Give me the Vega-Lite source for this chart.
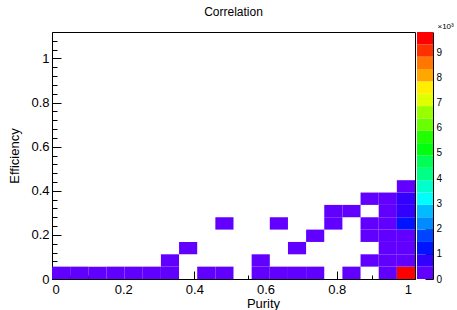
{
  "$schema": "https://vega.github.io/schema/vega-lite/v6.json",
  "autosize": "pad",
  "padding": {"left": 8, "top": 5, "right": 2, "bottom": 0},
  "background": "white",
  "spacing": 2,
  "bounds": "flush",
  "config": {
    "font": "Liberation Sans",
    "view": {"stroke": "black", "strokeWidth": 1},
    "axis": {"grid": false, "domainColor": "black", "tickColor": "black", "labelColor": "black", "titleColor": "black", "labelFont": "Liberation Sans", "titleFont": "Liberation Sans", "titleFontWeight": "normal"}
  },
  "datasets": {
    "cells": [
      {"xlo": 0.000, "xhi": 0.051, "ylo": 0.000, "yhi": 0.056, "z": 210},
      {"xlo": 0.051, "xhi": 0.102, "ylo": 0.000, "yhi": 0.056, "z": 180},
      {"xlo": 0.102, "xhi": 0.153, "ylo": 0.000, "yhi": 0.056, "z": 150},
      {"xlo": 0.153, "xhi": 0.204, "ylo": 0.000, "yhi": 0.056, "z": 140},
      {"xlo": 0.204, "xhi": 0.255, "ylo": 0.000, "yhi": 0.056, "z": 120},
      {"xlo": 0.255, "xhi": 0.306, "ylo": 0.000, "yhi": 0.056, "z": 110},
      {"xlo": 0.306, "xhi": 0.357, "ylo": 0.000, "yhi": 0.056, "z": 90},
      {"xlo": 0.408, "xhi": 0.459, "ylo": 0.000, "yhi": 0.056, "z": 80},
      {"xlo": 0.459, "xhi": 0.510, "ylo": 0.000, "yhi": 0.056, "z": 85},
      {"xlo": 0.561, "xhi": 0.612, "ylo": 0.000, "yhi": 0.056, "z": 95},
      {"xlo": 0.612, "xhi": 0.663, "ylo": 0.000, "yhi": 0.056, "z": 100},
      {"xlo": 0.663, "xhi": 0.714, "ylo": 0.000, "yhi": 0.056, "z": 110},
      {"xlo": 0.714, "xhi": 0.765, "ylo": 0.000, "yhi": 0.056, "z": 130},
      {"xlo": 0.816, "xhi": 0.867, "ylo": 0.000, "yhi": 0.056, "z": 160},
      {"xlo": 0.918, "xhi": 0.969, "ylo": 0.000, "yhi": 0.056, "z": 320},
      {"xlo": 0.969, "xhi": 1.020, "ylo": 0.000, "yhi": 0.056, "z": 9800},
      {"xlo": 0.306, "xhi": 0.357, "ylo": 0.056, "yhi": 0.112, "z": 60},
      {"xlo": 0.561, "xhi": 0.612, "ylo": 0.056, "yhi": 0.112, "z": 50},
      {"xlo": 0.867, "xhi": 0.918, "ylo": 0.056, "yhi": 0.112, "z": 120},
      {"xlo": 0.918, "xhi": 0.969, "ylo": 0.056, "yhi": 0.112, "z": 210},
      {"xlo": 0.969, "xhi": 1.020, "ylo": 0.056, "yhi": 0.112, "z": 380},
      {"xlo": 0.357, "xhi": 0.408, "ylo": 0.112, "yhi": 0.168, "z": 40},
      {"xlo": 0.663, "xhi": 0.714, "ylo": 0.112, "yhi": 0.168, "z": 45},
      {"xlo": 0.918, "xhi": 0.969, "ylo": 0.112, "yhi": 0.168, "z": 190},
      {"xlo": 0.969, "xhi": 1.020, "ylo": 0.112, "yhi": 0.168, "z": 420},
      {"xlo": 0.714, "xhi": 0.765, "ylo": 0.168, "yhi": 0.224, "z": 50},
      {"xlo": 0.867, "xhi": 0.918, "ylo": 0.168, "yhi": 0.224, "z": 90},
      {"xlo": 0.918, "xhi": 0.969, "ylo": 0.168, "yhi": 0.224, "z": 230},
      {"xlo": 0.969, "xhi": 1.020, "ylo": 0.168, "yhi": 0.224, "z": 460},
      {"xlo": 0.459, "xhi": 0.510, "ylo": 0.224, "yhi": 0.280, "z": 30},
      {"xlo": 0.612, "xhi": 0.663, "ylo": 0.224, "yhi": 0.280, "z": 35},
      {"xlo": 0.765, "xhi": 0.816, "ylo": 0.224, "yhi": 0.280, "z": 60},
      {"xlo": 0.867, "xhi": 0.918, "ylo": 0.224, "yhi": 0.280, "z": 110},
      {"xlo": 0.918, "xhi": 0.969, "ylo": 0.224, "yhi": 0.280, "z": 290},
      {"xlo": 0.969, "xhi": 1.020, "ylo": 0.224, "yhi": 0.280, "z": 1250},
      {"xlo": 0.765, "xhi": 0.816, "ylo": 0.280, "yhi": 0.336, "z": 70},
      {"xlo": 0.816, "xhi": 0.867, "ylo": 0.280, "yhi": 0.336, "z": 80},
      {"xlo": 0.918, "xhi": 0.969, "ylo": 0.280, "yhi": 0.336, "z": 260},
      {"xlo": 0.969, "xhi": 1.020, "ylo": 0.280, "yhi": 0.336, "z": 720},
      {"xlo": 0.867, "xhi": 0.918, "ylo": 0.336, "yhi": 0.392, "z": 90},
      {"xlo": 0.918, "xhi": 0.969, "ylo": 0.336, "yhi": 0.392, "z": 180},
      {"xlo": 0.969, "xhi": 1.020, "ylo": 0.336, "yhi": 0.392, "z": 680},
      {"xlo": 0.969, "xhi": 1.020, "ylo": 0.392, "yhi": 0.448, "z": 240}
    ],
    "bands": [
      {"zlo": 0, "zhi": 490, "zmid": 245},
      {"zlo": 490, "zhi": 980, "zmid": 735},
      {"zlo": 980, "zhi": 1470, "zmid": 1225},
      {"zlo": 1470, "zhi": 1960, "zmid": 1715},
      {"zlo": 1960, "zhi": 2450, "zmid": 2205},
      {"zlo": 2450, "zhi": 2940, "zmid": 2695},
      {"zlo": 2940, "zhi": 3430, "zmid": 3185},
      {"zlo": 3430, "zhi": 3920, "zmid": 3675},
      {"zlo": 3920, "zhi": 4410, "zmid": 4165},
      {"zlo": 4410, "zhi": 4900, "zmid": 4655},
      {"zlo": 4900, "zhi": 5390, "zmid": 5145},
      {"zlo": 5390, "zhi": 5880, "zmid": 5635},
      {"zlo": 5880, "zhi": 6370, "zmid": 6125},
      {"zlo": 6370, "zhi": 6860, "zmid": 6615},
      {"zlo": 6860, "zhi": 7350, "zmid": 7105},
      {"zlo": 7350, "zhi": 7840, "zmid": 7595},
      {"zlo": 7840, "zhi": 8330, "zmid": 8085},
      {"zlo": 8330, "zhi": 8820, "zmid": 8575},
      {"zlo": 8820, "zhi": 9310, "zmid": 9065},
      {"zlo": 9310, "zhi": 9800, "zmid": 9555}
    ]
  },
  "hconcat": [
    {
      "width": 363,
      "height": 247,
      "title": {"text": "Correlation", "fontSize": 12, "fontWeight": "normal", "font": "Liberation Sans", "color": "black", "offset": 13},
      "data": {"name": "cells"},
      "layer": [
        {
          "mark": {"type": "rect", "strokeWidth": 0},
          "encoding": {
            "x": {"field": "xlo", "type": "quantitative", "scale": {"domain": [0, 1.02], "nice": false, "zero": false},
              "axis": {"orient": "bottom", "values": [0, 0.2, 0.4, 0.6, 0.8, 1], "format": "~g", "tickSize": -8, "labelPadding": 12, "labelFontSize": 13, "title": "Purity", "titleFontSize": 13, "titleX": 211, "titleAlign": "center", "titlePadding": 1, "domain": true}},
            "x2": {"field": "xhi"},
            "y": {"field": "ylo", "type": "quantitative", "scale": {"domain": [0, 1.12], "nice": false, "zero": false},
              "axis": {"orient": "left", "values": [0, 0.2, 0.4, 0.6, 0.8, 1], "format": "~g", "tickSize": -9, "labelPadding": 12, "labelFontSize": 13, "title": "Efficiency", "titleFontSize": 13, "titlePadding": 9, "domain": true}},
            "y2": {"field": "yhi"},
            "color": {"field": "z", "type": "quantitative",
              "scale": {"type": "quantize", "domain": [0, 9800], "nice": false,
                "range": ["#6200ff", "#3300ff", "#0014ff", "#0044ff", "#008bff", "#00bbff", "#00fffc", "#00ffcc", "#00ff85", "#00ff55", "#00ff0e", "#22ff00", "#69ff00", "#99ff00", "#e0ff00", "#ffee00", "#ffa700", "#ff7700", "#ff3000", "#ff0000"]},
              "legend": null
            }
          }
        },
        {
          "mark": {"type": "rect", "fill": "transparent", "strokeWidth": 0},
          "encoding": {
            "x": {"field": "xlo", "type": "quantitative",
              "axis": {"orient": "bottom", "values": [0.05, 0.1, 0.15, 0.25, 0.3, 0.35, 0.45, 0.5, 0.55, 0.65, 0.7, 0.75, 0.85, 0.9, 0.95], "labels": false, "tickSize": -4, "domain": false, "title": null}},
            "x2": {"field": "xhi"},
            "y": {"field": "ylo", "type": "quantitative",
              "axis": {"orient": "left", "values": [0.04, 0.08, 0.12, 0.16, 0.24, 0.28, 0.32, 0.36, 0.44, 0.48, 0.52, 0.56, 0.64, 0.68, 0.72, 0.76, 0.84, 0.88, 0.92, 0.96, 1.04, 1.08], "labels": false, "tickSize": -5, "domain": false, "title": null}},
            "y2": {"field": "yhi"}
          }
        }
      ],
      "resolve": {"axis": {"x": "independent", "y": "independent"}}
    },
    {
      "width": 16,
      "height": 247,
      "view": {"stroke": null},
      "data": {"name": "bands"},
      "mark": {"type": "rect", "strokeWidth": 0},
      "encoding": {
        "y": {"field": "zlo", "type": "quantitative", "scale": {"domain": [0, 9800], "nice": false, "zero": false},
          "axis": {"orient": "right", "values": [0, 1000, 2000, 3000, 4000, 5000, 6000, 7000, 8000, 9000], "labelExpr": "'' + datum.value/1000", "tickSize": -8, "labelPadding": 11, "labelFontSize": 10, "labelFlush": false,
            "title": "×10³", "titleAngle": 0, "titleFontSize": 8, "titleAlign": "left", "titleBaseline": "bottom", "titleX": 4, "titleY": -2, "domain": true}},
        "y2": {"field": "zhi"},
        "color": {"field": "zmid", "type": "quantitative",
          "scale": {"type": "quantize", "domain": [0, 9800], "nice": false,
            "range": ["#6200ff", "#3300ff", "#0014ff", "#0044ff", "#008bff", "#00bbff", "#00fffc", "#00ffcc", "#00ff85", "#00ff55", "#00ff0e", "#22ff00", "#69ff00", "#99ff00", "#e0ff00", "#ffee00", "#ffa700", "#ff7700", "#ff3000", "#ff0000"]},
          "legend": null}
      }
    }
  ],
  "resolve": {"scale": {"color": "independent"}}
}
